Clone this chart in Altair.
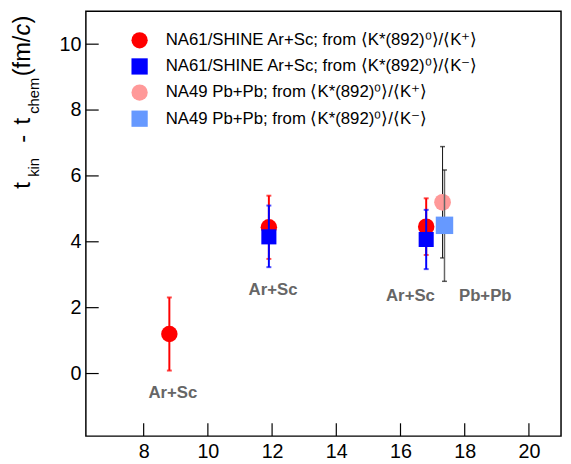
import altair as alt
import pandas as pd

# ---- data ----
S1 = "NA61/SHINE Ar+Sc; from ⟨K*(892)⁰⟩/⟨K⁺⟩"
S2 = "NA61/SHINE Ar+Sc; from ⟨K*(892)⁰⟩/⟨K⁻⟩"
S3 = "NA49 Pb+Pb; from ⟨K*(892)⁰⟩/⟨K⁺⟩"
S4 = "NA49 Pb+Pb; from ⟨K*(892)⁰⟩/⟨K⁻⟩"
series_names = [S1, S2, S3, S4]
series_colors = ["#ff0000", "#0000ff", "#ff9999", "#6699ff"]
series_shapes = ["circle", "square", "circle", "square"]

s1_x = [8.8, 11.9, 16.8]
s1_y = [1.2, 4.44, 4.46]
s1_lo = [0.09, 3.48, 3.60]
s1_hi = [2.31, 5.40, 5.32]

s2_x = [11.9, 16.8]
s2_y = [4.15, 4.07]
s2_lo = [3.23, 3.17]
s2_hi = [5.10, 4.97]

s3_x = [17.31]
s3_y = [5.2]
s3_lo = [3.51]
s3_hi = [6.89]

s4_x = [17.37]
s4_y = [4.5]
s4_lo = [2.80]
s4_hi = [6.18]

label_text = ["Ar+Sc", "Ar+Sc", "Ar+Sc", "Pb+Pb"]
label_x = [8.91, 12.03, 16.31, 18.64]
label_y = [-0.53, 2.58, 2.40, 2.40]

x_ticks = [8, 10, 12, 14, 16, 18, 20]
y_ticks = [0, 2, 4, 6, 8, 10]

# ---- layout ----
W, H = 482, 431
FONT = "Liberation Sans"

xs = alt.Scale(domain=[6.2, 21.0], nice=False, zero=False)
ys = alt.Scale(domain=[-1.9, 11.0], nice=False, zero=False)
xaxis = alt.Axis(values=x_ticks, title=None, ticks=False, domain=False, grid=False,
                 labelFontSize=20, labelFont=FONT, labelColor="black", labelPadding=6, format="d")
yaxis = alt.Axis(values=y_ticks, title=None, ticks=False, domain=False, grid=False,
                 labelFontSize=20, labelFont=FONT, labelColor="black", labelPadding=5, format="d")

X = alt.X("x:Q", scale=xs, axis=xaxis)
Y = alt.Y("y:Q", scale=ys, axis=yaxis)

legend = alt.Legend(orient="none", legendX=46, legendY=21, title=None,
                    labelFontSize=17, labelFont=FONT, labelColor="black",
                    symbolSize=272, symbolStrokeWidth=0, symbolOpacity=1,
                    rowPadding=8.5, labelOffset=18, padding=0, labelLimit=0)
color_enc = alt.Color("series:N", scale=alt.Scale(domain=series_names, range=series_colors), legend=legend)
shape_enc = alt.Shape("series:N", scale=alt.Scale(domain=series_names, range=series_shapes), legend=legend)


def make_df(name, xv, yv, lo, hi):
    return pd.DataFrame({"series": name, "x": xv, "y": yv, "lo": lo, "hi": hi})


def series_layers(df, size, bar_color, bar_w, cap_color, cap_w, cap_t):
    base = alt.Chart(df)
    bar = base.mark_rule(color=bar_color, strokeWidth=bar_w).encode(
        x=X, y=alt.Y("lo:Q", scale=ys, axis=yaxis), y2="hi:Q")
    cap_lo = base.mark_tick(orient="horizontal", color=cap_color, size=cap_w, thickness=cap_t).encode(
        x=X, y=alt.Y("lo:Q", scale=ys, axis=yaxis))
    cap_hi = base.mark_tick(orient="horizontal", color=cap_color, size=cap_w, thickness=cap_t).encode(
        x=X, y=alt.Y("hi:Q", scale=ys, axis=yaxis))
    pt = base.mark_point(filled=True, opacity=1, size=size, strokeWidth=0).encode(
        x=X, y=Y, color=color_enc, shape=shape_enc)
    return [bar, cap_lo, cap_hi, pt]


layers = []
layers += series_layers(make_df(S1, s1_x, s1_y, s1_lo, s1_hi), 279, "#ff0000", 2, "#ff0000", 5, 2)
layers += series_layers(make_df(S2, s2_x, s2_y, s2_lo, s2_hi), 234, "#0000ff", 2, "#0000ff", 5, 2)
layers += series_layers(make_df(S3, s3_x, s3_y, s3_lo, s3_hi), 289, "#111111", 1, "#111111", 5, 1.5)
layers += series_layers(make_df(S4, s4_x, s4_y, s4_lo, s4_hi), 313, "#666666", 1.5, "#111111", 5, 1.5)

labels_df = pd.DataFrame({"x": label_x, "y": label_y, "t": label_text})
labels = alt.Chart(labels_df).mark_text(font=FONT, fontSize=17, fontWeight="bold", color="#666666",
                                        align="center", baseline="middle", dy=2).encode(x=X, y=Y, text="t:N")

# inward ticks
xt = alt.Chart(pd.DataFrame({"x": x_ticks})).mark_rule(color="black", strokeWidth=1.2).encode(
    x=X, y=alt.value(H), y2=alt.value(H - 13))
yt = alt.Chart(pd.DataFrame({"y": y_ticks})).mark_rule(color="black", strokeWidth=1.2).encode(
    y=Y, x=alt.value(0), x2=alt.value(13))

# y-axis title with subscripts
MAIN_X, SUB_X = -57, -47.5
title_pieces = [
    ("t", 180, 24, MAIN_X, "normal"),
    ("kin", 168, 15, SUB_X, "normal"),
    ("-", 133.5, 24, MAIN_X, "normal"),
    ("t", 115, 24, MAIN_X, "normal"),
    ("chem", 104, 15, SUB_X, "normal"),
    ("(fm/", 66, 24, MAIN_X, "normal"),
    ("c", 24.5, 24, MAIN_X, "italic"),
    (")", 12.5, 24, MAIN_X, "normal"),
]
title_layers = []
for txt, yy, fs, xx, style in title_pieces:
    title_layers.append(
        alt.Chart(alt.Data(values=[{}])).mark_text(
            text=txt, angle=270, align="left", baseline="alphabetic", fontSize=fs,
            font=FONT, fontStyle=style, color="black").encode(x=alt.value(xx), y=alt.value(yy))
    )

chart = alt.layer(xt, yt, *layers, labels, *title_layers).properties(
    width=W, height=H,
    autosize=alt.AutoSizeParams(type="none"),
    padding={"left": 79, "top": 0, "right": 2, "bottom": 25},
    background="white",
).configure_view(stroke="black", strokeWidth=1.5)

chart.save("out.html", embed_options={"renderer": "svg", "actions": False})
